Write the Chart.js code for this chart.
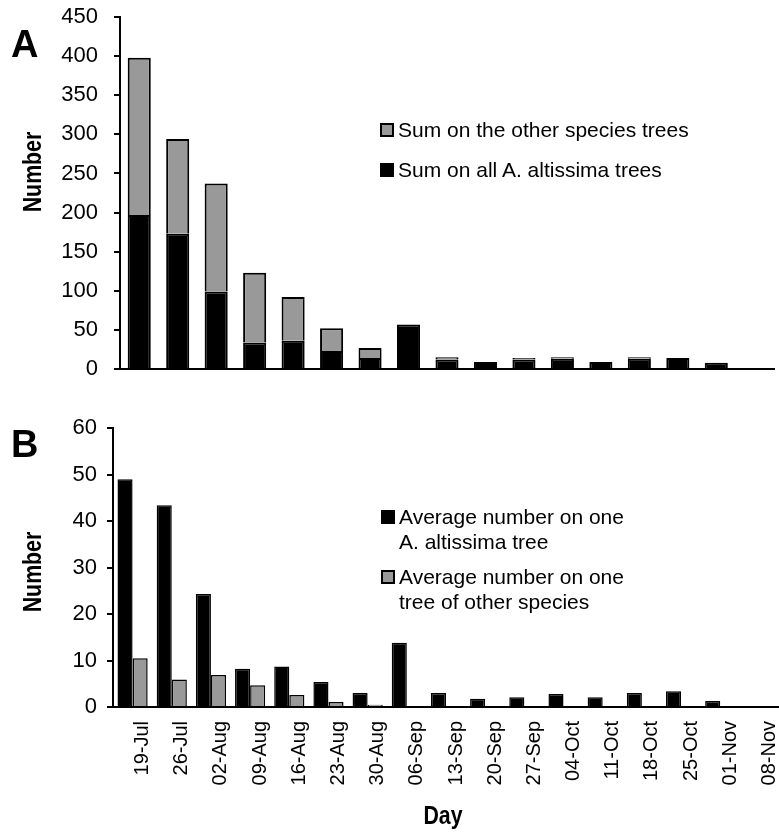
<!DOCTYPE html>
<html>
<head>
<meta charset="utf-8">
<script src="https://cdn.jsdelivr.net/npm/chart.js@4"></script>
<style>
  body { margin: 0; background: #fff; font-family: "Liberation Sans", Arial, sans-serif; color: #000; }
  #wrap { position: relative; width: 779px; height: 832px; overflow: hidden; }
  canvas { position: absolute; left: 0; }
  #chartA { top: 0; }
  #chartB { top: 400px; }
  .panel { position: absolute; left: 11px; font-weight: bold; font-size: 38px; line-height: 38px; }
  .axis-title { position: absolute; width: 120px; height: 30px; line-height: 30px; text-align: center;
    font-weight: bold; font-size: 26px; white-space: nowrap; }
  .ytitle { transform: rotate(-90deg) scaleX(0.82); }
  .xtitle { transform: scaleX(0.82); }
  .legend-row { position: absolute; font-size: 21px; line-height: 25px; white-space: nowrap; }
  .swatch { position: absolute; left: -18px; top: 6px; width: 10px; height: 10px; border: 2px solid #000; }
</style>
</head>
<body>
<div id="wrap">
  <canvas id="chartA" width="779" height="380"></canvas>
  <canvas id="chartB" width="779" height="432"></canvas>

  <div class="panel" style="top:25px">A</div>
  <div class="panel" style="top:425px">B</div>

  <div class="axis-title ytitle" style="left:-28px; top:157px">Number</div>
  <div class="axis-title ytitle" style="left:-28px; top:557px">Number</div>
  <div class="axis-title xtitle" style="left:383px; top:800px">Day</div>

  <div class="legend-row" style="left:398px; top:117px"><span class="swatch" style="background:#999999"></span>Sum on the other species trees</div>
  <div class="legend-row" style="left:398px; top:157px"><span class="swatch" style="background:#000"></span>Sum on all A. altissima trees</div>

  <div class="legend-row" style="left:399px; top:504px"><span class="swatch" style="background:#000"></span>Average number on one<br>A. altissima tree</div>
  <div class="legend-row" style="left:399px; top:564px"><span class="swatch" style="background:#999999"></span>Average number on one<br>tree of other species</div>
</div>

<script>
const days = ["19-Jul", "26-Jul", "02-Aug", "09-Aug", "16-Aug", "23-Aug", "30-Aug", "06-Sep", "13-Sep",
  "20-Sep", "27-Sep", "04-Oct", "11-Oct", "18-Oct", "25-Oct", "01-Nov", "08-Nov"];

// panel A: sums (stacked)
const sumAltissima = [197, 173, 99, 34, 36, 23, 14, 57, 12, 9, 12, 13, 9, 13, 14, 8, 0];
const sumOther = [201, 121, 138, 89, 56, 29, 13, 0, 3, 0, 2, 2, 0, 2, 0, 0, 0];
const yTicksA = [0, 50, 100, 150, 200, 250, 300, 350, 400, 450];

// panel B: averages per tree (grouped)
const avgAltissima = [49, 43.4, 24.3, 8.2, 8.7, 5.4, 3.0, 13.8, 3.0, 1.8, 2.1, 2.8, 2.1, 3.0, 3.4, 1.3, 0];
const avgOther = [10.5, 5.9, 6.9, 4.7, 2.6, 1.1, 0.5, 0, 0, 0, 0, 0, 0, 0, 0, 0, 0];
const yTicksB = [0, 10, 20, 30, 40, 50, 60];

const BLACK = "#000000";
const GREY = "#999999";
const FONT = "'Liberation Sans', Arial, sans-serif";

// fixed axis box so the plot area lands where the original has it
function yAxis(ticks, width, pad) {
  return {
    min: ticks[0],
    max: ticks[ticks.length - 1],
    afterBuildTicks: (scale) => { scale.ticks = ticks.map((v) => ({ value: v })); },
    afterFit: (scale) => {
      scale.width = width;
      scale.paddingTop = 0;
      scale.paddingBottom = 0;
    },
    grid: { drawOnChartArea: false, color: BLACK, lineWidth: 2, tickLength: 6 },
    border: { color: BLACK, width: 2 },
    ticks: { color: BLACK, padding: pad, font: { family: FONT, size: 22 } },
  };
}

const common = {
  responsive: false,
  animation: false,
  events: [],
  plugins: { legend: { display: false }, tooltip: { enabled: false } },
};

new Chart(document.getElementById("chartA"), {
  type: "bar",
  data: {
    labels: days,
    datasets: [
      { label: "Sum on all A. altissima trees", data: sumAltissima, backgroundColor: BLACK,
        borderColor: BLACK, borderWidth: 2 },
      { label: "Sum on the other species trees", data: sumOther, backgroundColor: GREY,
        borderColor: BLACK, borderWidth: 2 },
    ],
  },
  options: {
    ...common,
    layout: { padding: { top: 17, bottom: 11, right: 5 } },
    datasets: { bar: { categoryPercentage: 0.6, barPercentage: 1 } },
    scales: {
      x: {
        stacked: true,
        grid: { display: false, drawTicks: false },
        ticks: { display: false },
        border: { color: BLACK, width: 2 },
        afterFit: (scale) => {
          scale.height = 0;
          scale.paddingLeft = 0;
          scale.paddingRight = 0;
        },
      },
      y: { stacked: true, ...yAxis(yTicksA, 120, 16) },
    },
  },
});

new Chart(document.getElementById("chartB"), {
  type: "bar",
  data: {
    labels: days,
    datasets: [
      { label: "Average number on one A. altissima tree", data: avgAltissima, backgroundColor: BLACK,
        borderColor: BLACK, borderWidth: 1.5 },
      { label: "Average number on one tree of other species", data: avgOther, backgroundColor: GREY,
        borderColor: BLACK, borderWidth: 1.5 },
    ],
  },
  options: {
    ...common,
    layout: { padding: { top: 28, bottom: 0, right: 0 } },
    datasets: { bar: { categoryPercentage: 0.77, barPercentage: 1 } },
    scales: {
      x: {
        grid: { display: false, drawTicks: false },
        border: { color: BLACK, width: 2 },
        ticks: { color: BLACK, autoSkip: false, minRotation: 90, maxRotation: 90, padding: 14,
          labelOffset: 10, font: { family: FONT, size: 20 } },
        afterFit: (scale) => {
          scale.height = 125;
          scale.paddingLeft = 0;
          scale.paddingRight = 0;
        },
      },
      y: yAxis(yTicksB, 113, 10),
    },
  },
});
</script>
</body>
</html>
